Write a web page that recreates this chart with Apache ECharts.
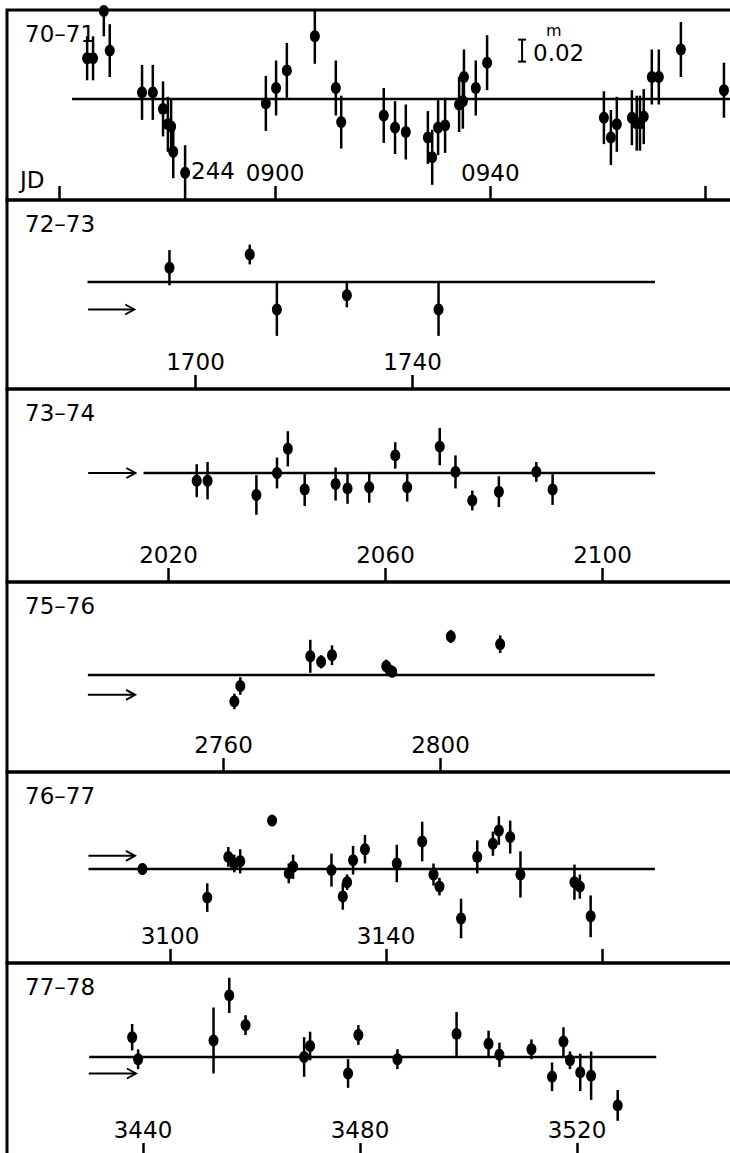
<!DOCTYPE html>
<html>
<head>
<meta charset="utf-8">
<title>Light curves 1970-1978</title>
<script src="https://cdn.jsdelivr.net/npm/echarts@6/dist/echarts.min.js"></script>
<style>
    html, body {margin: 0; padding: 0; background: #fff;}
    #chart {width: 730px; height: 1153px;}
</style>
</head>
<body>
<div id="chart"></div>
<script>
// seasons, JD 244 xxxx, offsets from mean level in 0.001 mag (up = positive), half error bars
const seasons = ['70–71', '72–73', '73–74', '75–76', '76–77', '77–78'];

const jd7071 = [865.1, 866.2, 868.2, 869.3, 875.3, 877.3, 879.2, 880.1, 880.7, 881.1, 883.3, 898.3, 900.2, 902.2, 907.4, 911.3, 912.3,
    920.2, 922.3, 924.3, 928.4, 929.2, 930.3, 931.6, 934.2, 934.9, 935.1, 937.3, 939.4,
    961.1, 962.4, 963.5, 966.3, 967.2, 967.8, 968.5, 970.0, 971.3, 975.4, 983.4];
const dm7071 = [37, 37, 80, 44, 6, 6, -9, -23, -25, -48, -67, -4, 10, 26, 57, 10, -21,
    -15, -26, -30, -35, -53, -26, -24, -5, -2, 20, 10, 33,
    -17, -35, -23, -17, -22, -22, -16, 20, 20, 45, 8];
const err7071 = [20, 20, 23, 24, 25, 25, 25, 25, 25, 24, 25, 25, 25, 25, 25, 25, 24,
    25, 24, 25, 24, 25, 25, 25, 25, 25, 25, 25, 25,
    24, 25, 25, 25, 25, 25, 25, 25, 25, 25, 25];

const jd7273 = [1695.2, 1710.0, 1715.0, 1727.9, 1744.8];
const dm7273 = [13, 25, -25, -12, -25];
const err7273 = [16, 9, 24, 11, 24];

const jd7374 = [2025.2, 2027.2, 2036.2, 2040.0, 2042.0, 2045.1, 2050.8, 2053.0, 2057.0, 2061.8, 2064.0, 2070.0, 2072.9,
    2076.0, 2080.9, 2087.8, 2090.8];
const dm7374 = [-7, -7, -20, 0, 22, -15, -10, -14, -13, 16, -13, 24, 1, -25, -17, 1, -15];
const err7374 = [15, 17, 18, 14, 16, 15, 15, 14, 14, 12, 13, 17, 15, 9, 14, 9, 14];

const jd7576 = [2762.0, 2763.1, 2776.0, 2778.0, 2780.0, 2790.0, 2790.7, 2791.1, 2801.9, 2811.0];
const dm7576 = [-24, -10, 17, 12, 18, 8, 4, 3, 35, 28];
const err7576 = [7, 8, 15, 6, 9, 6, 5, 5, 6, 8];

const jd7677 = [3094.9, 3106.9, 3110.8, 3111.9, 3113.0, 3118.9, 3122.0, 3122.8, 3129.9, 3132.0, 3132.8, 3133.9, 3136.1,
    3142.0, 3146.7, 3148.8, 3149.9, 3153.9, 3156.9, 3159.8, 3160.9, 3163.0, 3164.9, 3174.9, 3175.9, 3177.9];
const dm7677 = [0, -26, 11, 5, 7, 44, -4, 2, -1, -25, -12, 8, 18, 5, 25, -5, -16, -45, 11, 23, 35, 29, -5, -12, -16, -43];
const err7677 = [5, 13, 9, 8, 11, 5, 9, 11, 15, 12, 7, 13, 13, 17, 18, 10, 8, 18, 15, 11, 13, 15, 21, 16, 11, 19];

const jd7778 = [3438.0, 3439.1, 3453.0, 3455.9, 3458.9, 3469.7, 3470.8, 3477.8, 3479.7, 3486.9, 3497.8, 3503.7, 3505.7,
    3511.6, 3515.4, 3517.5, 3518.7, 3520.6, 3522.6, 3527.5];
const dm7778 = [18, -2, 15, 56, 29, 0, 10, -15, 20, -2, 21, 12, 2, 7, -18, 14, -3, -14, -17, -44];
const err7778 = [12, 9, 30, 16, 9, 18, 13, 13, 9, 9, 20, 12, 11, 9, 13, 13, 8, 17, 22, 14];

const tickValues = [[860, 900, 940, 980], [1700, 1740], [2020, 2060, 2100], [2760, 2800], [3100, 3140, 3180], [3440, 3480, 3520]];
const tickLabels = [['', '0900', '0940', ''], ['1700', '1740'], ['2020', '2060', '2100'], ['2760', '2800'], ['3100', '3140', ''], ['3440', '3480', '3520']];

// mean level line [from, to] and the arrow [from, to, level]
const refLines = [[862.3, 990], [1680.1, 1784.7], [2015.4, 2109.7], [2735.0, 2839.5], [3084.9, 3189.8], [3430.1, 3534.6]];
const arrows = [null, [1680.2, 1688.7, -25], [2005.2, 2013.9, 0], [2735.0, 2743.7, -18], [3084.9, 3093.5, 12], [3430.0, 3438.7, -15]];
const scaleBar = [945.9, 34, 54]; // 0.02 mag

const jds = [jd7071, jd7273, jd7374, jd7576, jd7677, jd7778];
const dms = [dm7071, dm7273, dm7374, dm7576, dm7677, dm7778];
const errs = [err7071, err7273, err7374, err7576, err7677, err7778];

// page layout of the six panels
const LEFT = 7, RIGHT = 740, PPM = 1.1;
const FONT = 'DejaVu Sans';
const layout = [
    {top: 10, bottom: 200, lineY: 99, x0: 275, jd0: 900, ppd: 5.383},
    {top: 200, bottom: 389, lineY: 282, x0: 195.5, jd0: 1700, ppd: 5.425},
    {top: 389, bottom: 582, lineY: 473, x0: 168.5, jd0: 2020, ppd: 5.425},
    {top: 582, bottom: 772, lineY: 675, x0: 223.5, jd0: 2760, ppd: 5.425},
    {top: 772, bottom: 963, lineY: 869, x0: 170, jd0: 3100, ppd: 5.4},
    {top: 963, bottom: 1157, lineY: 1057, x0: 143, jd0: 3440, ppd: 5.425}
];

function renderErrorBar(params, api) {
    let x = api.value(0), y = api.value(1), e = api.value(2);
    let p1 = api.coord([x, y - e]), p2 = api.coord([x, y + e]);
    return {
        type: 'line',
        shape: {x1: p1[0], y1: p1[1], x2: p2[0], y2: p2[1]},
        style: {stroke: '#000', lineWidth: 2.5}
    };
}

function renderArrow(params, api) {
    let a = api.coord([api.value(0), api.value(2)]);
    let b = api.coord([api.value(1), api.value(2)]);
    return {
        type: 'group',
        children: [
            {type: 'line', shape: {x1: a[0], y1: a[1], x2: b[0], y2: b[1]}, style: {stroke: '#000', lineWidth: 2}},
            {
                type: 'polyline',
                shape: {points: [[b[0] - 9, b[1] - 5], [b[0], b[1]], [b[0] - 9, b[1] + 5]]},
                style: {stroke: '#000', lineWidth: 2, fill: null}
            }
        ]
    };
}

function renderScaleBar(params, api) {
    let lo = api.coord([api.value(0), api.value(1)]);
    let hi = api.coord([api.value(0), api.value(2)]);
    let st = {stroke: '#000', lineWidth: 2};
    return {
        type: 'group',
        children: [
            {type: 'line', shape: {x1: lo[0], y1: lo[1], x2: hi[0], y2: hi[1]}, style: st},
            {type: 'line', shape: {x1: lo[0] - 4, y1: lo[1], x2: lo[0] + 4, y2: lo[1]}, style: st},
            {type: 'line', shape: {x1: hi[0] - 4, y1: hi[1], x2: hi[0] + 4, y2: hi[1]}, style: st}
        ]
    };
}

let grids = [], xAxes = [], yAxes = [], series = [], titles = [];
layout.forEach(function (p, i) {
    grids.push({
        left: LEFT, top: p.top, width: RIGHT - LEFT, height: p.bottom - p.top,
        show: true, borderColor: '#000', borderWidth: 3, backgroundColor: 'transparent',
        outerBoundsMode: 'none'
    });
    xAxes.push({
        gridIndex: i, type: 'value', position: 'bottom',
        min: p.jd0 - (p.x0 - LEFT) / p.ppd,
        max: p.jd0 + (RIGHT - p.x0) / p.ppd,
        axisLine: {show: false, onZero: false},
        splitLine: {show: false},
        axisTick: {show: true, inside: true, length: 14, customValues: tickValues[i], lineStyle: {color: '#000', width: 2.5}},
        axisLabel: {
            inside: true, margin: 16, customValues: tickValues[i],
            color: '#000', fontSize: 23, fontFamily: FONT,
            formatter: function (v) {
                let k = tickValues[i].indexOf(v);
                return k < 0 ? '' : tickLabels[i][k];
            }
        }
    });
    yAxes.push({
        gridIndex: i, type: 'value', show: false,
        min: -(p.bottom - p.lineY) / PPM,
        max: (p.lineY - p.top) / PPM
    });
    titles.push({
        text: seasons[i], left: 25, top: p.top + 12, padding: 0,
        textStyle: {fontSize: 23, fontWeight: 'normal', fontFamily: FONT, color: '#000'}
    });

    series.push({
        type: 'line', xAxisIndex: i, yAxisIndex: i, silent: true, symbol: 'none',
        data: [[refLines[i][0], 0], [refLines[i][1], 0]],
        lineStyle: {color: '#000', width: 2.5}
    });
    let pts = jds[i].map(function (x, k) {
        return [x, dms[i][k], errs[i][k]];
    });
    series.push({
        type: 'custom', xAxisIndex: i, yAxisIndex: i, silent: true, clip: true,
        renderItem: renderErrorBar, encode: {x: 0, y: 1}, data: pts
    });
    series.push({
        type: 'scatter', xAxisIndex: i, yAxisIndex: i, silent: true, clip: true,
        symbol: 'circle', symbolSize: [10, 12],
        itemStyle: {color: '#000', opacity: 1},
        data: pts.map(function (d) { return [d[0], d[1]]; })
    });
    if (arrows[i]) {
        series.push({
            type: 'custom', xAxisIndex: i, yAxisIndex: i, silent: true,
            renderItem: renderArrow, encode: {x: [0, 1], y: 2}, data: [arrows[i]]
        });
    }
});

series.push({
    type: 'custom', xAxisIndex: 0, yAxisIndex: 0, silent: true,
    renderItem: renderScaleBar, encode: {x: 0, y: [1, 2]}, data: [scaleBar]
});

let txt = function (text, left, top, size) {
    return {type: 'text', left: left, top: top, style: {text: text, fill: '#000', font: size + 'px "' + FONT + '"'}};
};

let chart = echarts.init(document.getElementById('chart'), null, {renderer: 'svg'});
chart.setOption({
    animation: false,
    backgroundColor: '#fff',
    title: titles,
    grid: grids,
    xAxis: xAxes,
    yAxis: yAxes,
    series: series,
    graphic: [
        txt('JD', 20, 168, 23),
        txt('244', 191, 159, 23),
        txt('0.02', 533, 41, 23),
        txt('m', 546, 22, 16)
    ]
});
</script>
</body>
</html>
